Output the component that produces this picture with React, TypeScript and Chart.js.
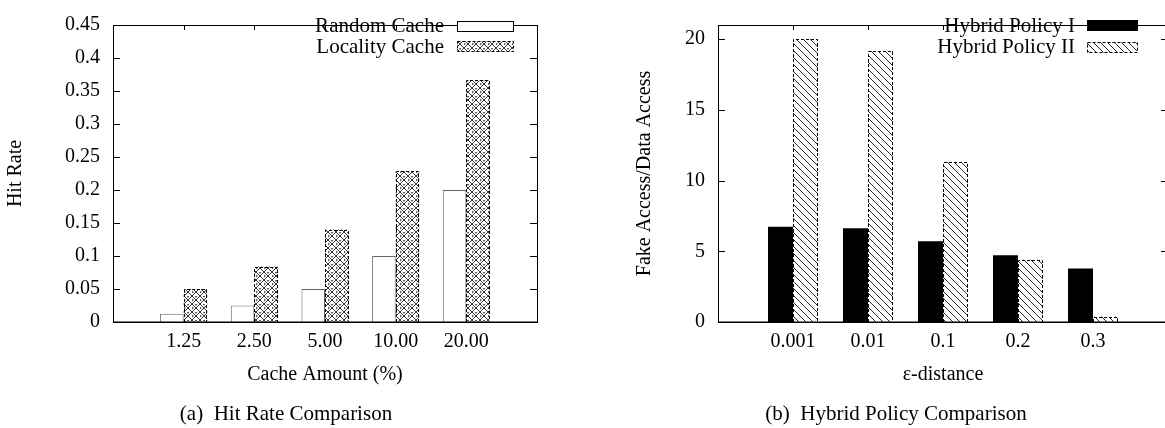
import React, { useEffect, useRef } from 'react';
import { Chart, registerables } from 'chart.js';

Chart.register(...registerables);

// ---------- data ----------
const cacheLabels = ['1.25', '2.50', '5.00', '10.00', '20.00'];
const randomCache = [0.0125, 0.025, 0.05, 0.1, 0.2];
const localityCache = [0.05, 0.084, 0.14, 0.2285, 0.366];
const hitRateTicks = [0, 0.05, 0.1, 0.15, 0.2, 0.25, 0.3, 0.35, 0.4, 0.45];

const epsLabels = ['0.001', '0.01', '0.1', '0.2', '0.3'];
const hybridI = [6.74, 6.63, 5.71, 4.72, 3.78];
const hybridII = [20.0, 19.17, 11.3, 4.41, 0.38];
const fakeTicks = [0, 5, 10, 15, 20];

const FONT = '"Liberation Serif", "Times New Roman", serif';

function pad<T>(a: T[], fill: any): any[] {
  return [fill, ...a, fill];
}

function crossPattern(): CanvasPattern | string {
  const s = 8;
  const c = document.createElement('canvas');
  c.width = s;
  c.height = s;
  const g = c.getContext('2d');
  if (!g) return '#999';
  g.fillStyle = '#fff';
  g.fillRect(0, 0, s, s);
  g.strokeStyle = '#333';
  g.lineWidth = 1;
  g.beginPath();
  g.moveTo(0, 0); g.lineTo(s, s);
  g.moveTo(s, 0); g.lineTo(0, s);
  g.stroke();
  g.fillStyle = '#000';
  g.fillRect(s / 2 - 0.6, 0, 1.3, 1.3);
  g.fillRect(0, s / 2 - 0.6, 1.3, 1.3);
  return g.createPattern(c, 'repeat') || '#999';
}

function diagPattern(): CanvasPattern | string {
  const s = 7;
  const c = document.createElement('canvas');
  c.width = s;
  c.height = s;
  const g = c.getContext('2d');
  if (!g) return '#999';
  g.fillStyle = '#fff';
  g.fillRect(0, 0, s, s);
  g.strokeStyle = '#111';
  g.lineWidth = 0.9;
  g.beginPath();
  g.moveTo(-1, -1); g.lineTo(s + 1, s + 1);
  g.moveTo(-1, s - 1); g.lineTo(1, s + 1);
  g.moveTo(s - 1, -1); g.lineTo(s + 1, 1);
  g.stroke();
  return g.createPattern(c, 'repeat') || '#999';
}

interface LegendCfg {
  textRight: number;
  boxLeft: number;
  boxRight: number;
  rows: number[];
}

function makeFramePlugin(legend: LegendCfg) {
  return {
    id: 'gnuplotFrame',
    beforeDatasetsDraw(chart: any) {
      const { ctx, chartArea: a, scales } = chart;
      ctx.save();
      ctx.strokeStyle = '#000';
      ctx.lineWidth = 1;
      const ys = scales.y;
      ys.ticks.forEach((t: any) => {
        const py = Math.round(ys.getPixelForValue(t.value)) + 0.5;
        ctx.beginPath();
        ctx.moveTo(a.left, py); ctx.lineTo(a.left + 7, py);
        ctx.moveTo(a.right - 7, py); ctx.lineTo(a.right, py);
        ctx.stroke();
      });
      const xs = scales.x;
      for (let i = 1; i < xs.ticks.length - 1; i++) {
        const px = Math.round(xs.getPixelForTick(i)) + 0.5;
        ctx.beginPath();
        ctx.moveTo(px, a.top); ctx.lineTo(px, a.top + 5);
        ctx.moveTo(px, a.bottom); ctx.lineTo(px, a.bottom - 5);
        ctx.stroke();
      }
      ctx.restore();
    },
    afterDatasetsDraw(chart: any) {
      const { ctx, chartArea: a } = chart;
      ctx.save();
      chart.data.datasets.forEach((ds: any, di: number) => {
        if (!ds.dashBorder) return;
        const meta = chart.getDatasetMeta(di);
        meta.data.forEach((el: any, i: number) => {
          if (ds.data[i] == null) return;
          const p = el.getProps(['x', 'y', 'base', 'width'], true);
          const l = Math.round(p.x - p.width / 2) + 0.5;
          const r = Math.round(p.x + p.width / 2) - 0.5;
          const t = Math.round(p.y) + 0.5;
          const b = Math.round(p.base);
          ctx.strokeStyle = '#000';
          ctx.lineWidth = 1;
          ctx.setLineDash([3, 2]);
          ctx.beginPath();
          ctx.moveTo(l, b); ctx.lineTo(l, t); ctx.lineTo(r, t); ctx.lineTo(r, b);
          ctx.stroke();
        });
      });
      ctx.setLineDash([]);
      ctx.strokeStyle = '#000';
      ctx.lineWidth = 1;
      ctx.strokeRect(Math.round(a.left) + 0.5, Math.round(a.top) + 0.5,
        Math.round(a.right - a.left), Math.round(a.bottom - a.top));
      ctx.lineWidth = 1.5;
      ctx.beginPath();
      ctx.moveTo(a.left, Math.round(a.bottom) + 0.25);
      ctx.lineTo(a.right, Math.round(a.bottom) + 0.25);
      ctx.stroke();
      ctx.restore();
    },
    afterDraw(chart: any) {
      const { ctx } = chart;
      ctx.save();
      ctx.font = `21px ${FONT}`;
      ctx.textAlign = 'right';
      ctx.textBaseline = 'middle';
      chart.data.datasets.forEach((ds: any, i: number) => {
        const cy = legend.rows[i];
        ctx.fillStyle = '#000';
        ctx.fillText(ds.label, legend.textRight, cy + 1);
        const top = Math.round(cy - 5) + 0.5;
        ctx.fillStyle = ds.backgroundColor;
        ctx.fillRect(legend.boxLeft, top, legend.boxRight - legend.boxLeft, 10);
        ctx.strokeStyle = '#000';
        ctx.lineWidth = 1;
        ctx.setLineDash(ds.dashBorder ? [3, 2] : []);
        ctx.strokeRect(legend.boxLeft + 0.5, top, legend.boxRight - legend.boxLeft, 10);
      });
      ctx.restore();
    },
  };
}

interface ChartSpec {
  labels: string[];
  datasets: any[];
  yTicks: number[];
  yMax: number;
  yTitle: string;
  xTitle: string;
  yWidth: number;
  yTitlePad: number;
  padRight: number;
  legend: LegendCfg;
}

function buildChart(canvas: HTMLCanvasElement, spec: ChartSpec) {
  return new Chart(canvas, {
    type: 'bar',
    data: {
      labels: pad(spec.labels, ''),
      datasets: spec.datasets,
    },
    options: {
      responsive: false,
      animation: false,
      events: [],
      layout: { padding: { top: 10, right: spec.padRight, bottom: 0, left: 0 } },
      datasets: { bar: { categoryPercentage: 2 / 3, barPercentage: 1 } },
      plugins: { legend: { display: false }, tooltip: { enabled: false } },
      scales: {
        x: {
          type: 'category',
          offset: false,
          grid: { display: false, drawTicks: false },
          border: { display: false },
          ticks: {
            autoSkip: false,
            maxRotation: 0,
            padding: 8,
            color: '#000',
            font: { family: FONT, size: 20 },
          },
          title: {
            display: true,
            text: spec.xTitle,
            color: '#000',
            font: { family: FONT, size: 20 },
            padding: { top: 0, bottom: 41 },
          },
          afterFit: (s: any) => { s.height = 106; },
        },
        y: {
          type: 'linear',
          min: 0,
          max: spec.yMax,
          grid: { display: false, drawTicks: false },
          border: { display: false },
          afterBuildTicks: (s: any) => { s.ticks = spec.yTicks.map((v) => ({ value: v })); },
          ticks: {
            padding: 13,
            color: '#000',
            font: { family: FONT, size: 20 },
            callback: (v: any) => String(Number(Number(v).toFixed(3))),
          },
          title: {
            display: true,
            text: spec.yTitle,
            color: '#000',
            font: { family: FONT, size: 20 },
            padding: { top: spec.yTitlePad, bottom: 0 },
          },
          afterFit: (s: any) => { s.width = spec.yWidth; },
        },
      },
    },
    plugins: [makeFramePlugin(spec.legend)],
  } as any);
}

export default function App() {
  const leftRef = useRef<HTMLCanvasElement>(null);
  const rightRef = useRef<HTMLCanvasElement>(null);

  useEffect(() => {
    const cross = crossPattern();
    const diag = diagPattern();
    const c1 = buildChart(leftRef.current as HTMLCanvasElement, {
      labels: cacheLabels,
      datasets: [
        {
          label: 'Random Cache',
          data: pad(randomCache, null),
          backgroundColor: '#ffffff',
          borderColor: '#666',
          borderWidth: 1,
          borderSkipped: 'bottom',
        },
        {
          label: 'Locality Cache',
          data: pad(localityCache, null),
          backgroundColor: cross,
          borderWidth: 0,
          dashBorder: true,
        },
      ],
      yTicks: hitRateTicks,
      yMax: 0.45,
      yTitle: 'Hit Rate',
      xTitle: 'Cache Amount (%)',
      yWidth: 113,
      yTitlePad: 4,
      padRight: 23,
      legend: { textRight: 444, boxLeft: 457, boxRight: 513, rows: [25.5, 46] },
    });
    const c2 = buildChart(rightRef.current as HTMLCanvasElement, {
      labels: epsLabels,
      datasets: [
        {
          label: 'Hybrid Policy I',
          data: pad(hybridI, null),
          backgroundColor: '#000000',
          borderWidth: 0,
        },
        {
          label: 'Hybrid Policy II',
          data: pad(hybridII, null),
          backgroundColor: diag,
          borderWidth: 0,
          dashBorder: true,
        },
      ],
      yTicks: fakeTicks,
      yMax: 21,
      yTitle: 'Fake Access/Data Access',
      xTitle: 'ε-distance',
      yWidth: 136,
      yTitlePad: 51,
      padRight: 14,
      legend: { textRight: 493, boxLeft: 505, boxRight: 555, rows: [25, 46.5] },
    });
    return () => {
      c1.destroy();
      c2.destroy();
    };
  }, []);

  const caption: React.CSSProperties = {
    position: 'absolute',
    top: 401,
    width: 400,
    textAlign: 'center',
    fontFamily: FONT,
    fontSize: 21,
    lineHeight: '24px',
    color: '#000',
    whiteSpace: 'nowrap',
  };

  return (
    <div
      style={{
        position: 'fixed',
        left: 0,
        top: 0,
        width: 1165,
        height: 428,
        overflow: 'hidden',
        background: '#fff',
      }}
    >
      <canvas ref={leftRef} width={560} height={428} style={{ position: 'absolute', left: 0, top: 0 }} />
      <canvas ref={rightRef} width={600} height={428} style={{ position: 'absolute', left: 582, top: 0 }} />
      <div style={{ ...caption, left: 286 - 200 }}>(a)&nbsp; Hit Rate Comparison</div>
      <div style={{ ...caption, left: 896 - 200 }}>(b)&nbsp; Hybrid Policy Comparison</div>
    </div>
  );
}
